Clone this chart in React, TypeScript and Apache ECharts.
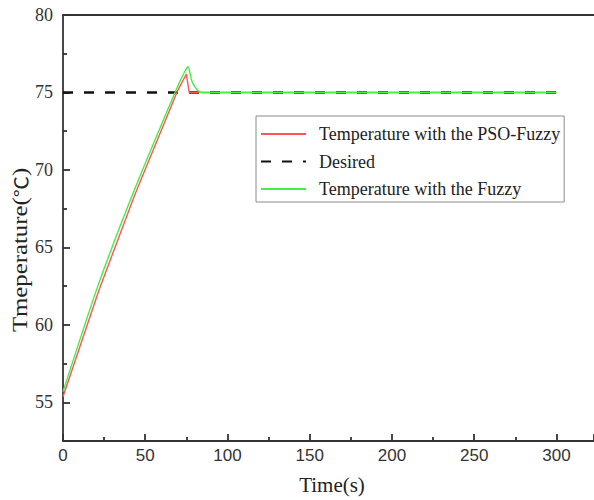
import React, { useEffect, useRef } from "react";
import * as echarts from "echarts";

// PSO-Fuzzy temperature response
const timePso = [0, 21.9, 43.6, 69.4, 75.0, 76.7, 300];
const tempPso = [55.36, 62.25, 68.38, 75.05, 76.19, 75.0, 75.0];

// Fuzzy temperature response
const timeFuzzy = [0, 21.0, 43.0, 68.5, 74.0, 76.1, 78.1, 80.1, 82.7, 85.0, 300];
const tempFuzzy = [55.68, 62.45, 68.6, 75.1, 76.35, 76.66, 75.8, 75.37, 75.05, 75.0, 75.0];

// Desired setpoint
const timeDesired = [0, 300];
const tempDesired = [75, 75];

const seriesNames = [
  "Temperature with the PSO-Fuzzy",
  "Desired",
  "Temperature with the Fuzzy",
];

const xTicks = [0, 50, 100, 150, 200, 250, 300];
const yTicks = [55, 60, 65, 70, 75, 80];

const zip = (xs: number[], ys: number[]) => xs.map((x, i) => [x, ys[i]]);

const SERIF = "'Liberation Serif', 'Times New Roman', serif";
const CJK = "'Noto Sans CJK SC', sans-serif";
const SANS = "'Liberation Sans', Arial, sans-serif";

export default function App() {
  const ref = useRef<HTMLDivElement>(null);

  useEffect(() => {
    if (!ref.current) return;
    const chart = echarts.init(ref.current, undefined, { renderer: "svg" });
    const axisLineStyle = { color: "#333", width: 1.8 };
    chart.setOption({
      animation: false,
      backgroundColor: "#fff",
      grid: { left: 63, top: 15, right: 0, bottom: 59, containLabel: false },
      legend: {
        orient: "vertical",
        left: 256,
        top: 116,
        data: seriesNames,
        itemWidth: 45,
        itemHeight: 14,
        itemGap: 9.5,
        itemStyle: { opacity: 0 },
        borderColor: "#8a8a8a",
        borderWidth: 1,
        borderRadius: 0,
        padding: [9, 4, 4, 4],
        textStyle: {
          fontFamily: SERIF,
          fontSize: 18,
          color: "#222",
          padding: [0, 0, 0, 8],
        },
      },
      xAxis: [
        {
          type: "value",
          min: 0,
          max: 322.8,
          interval: 50,
          position: "bottom",
          splitLine: { show: false },
          axisLine: { show: true, onZero: false, lineStyle: axisLineStyle },
          axisTick: { show: true, inside: true, length: 7, lineStyle: axisLineStyle },
          minorTick: { show: true, splitNumber: 2, length: 4, lineStyle: axisLineStyle },
          axisLabel: {
            margin: 6,
            fontFamily: SANS,
            fontSize: 17,
            color: "#333",
            showMaxLabel: false,
            formatter: (v: number) => (xTicks.includes(v) ? String(v) : ""),
          },
        },
        {
          type: "value",
          min: 0,
          max: 322.8,
          position: "top",
          splitLine: { show: false },
          axisLine: { show: true, onZero: false, lineStyle: axisLineStyle },
          axisTick: { show: false },
          axisLabel: { show: false },
        },
      ],
      yAxis: {
        type: "value",
        min: 52.5,
        max: 80,
        splitNumber: 5,
        splitLine: { show: false },
        axisLine: { show: true, onZero: false, lineStyle: axisLineStyle },
        axisTick: { show: true, inside: true, length: 7, lineStyle: axisLineStyle },
        minorTick: { show: true, splitNumber: 2, length: 4, lineStyle: axisLineStyle },
        axisLabel: {
          margin: 10,
          fontFamily: SERIF,
          fontSize: 18,
          color: "#333",
          showMinLabel: false,
          formatter: (v: number) => (yTicks.includes(v) ? String(v) : ""),
        },
      },
      graphic: [
        {
          type: "text",
          x: 20,
          y: 250,
          rotation: Math.PI / 2,
          scaleX: 1.18,
          style: {
            text: "{a|Tmeperature(}{b|℃}{a|)}",
            rich: {
              a: { fontFamily: SERIF, fontSize: 21, fill: "#222" },
              b: { fontFamily: CJK, fontSize: 18, fill: "#222" },
            },
            fill: "#222",
            textAlign: "center",
            textVerticalAlign: "middle",
          },
        },
        {
          type: "text",
          x: 332,
          y: 485,
          style: {
            text: "Time(s)",
            fontFamily: SERIF,
            fontSize: 21,
            fill: "#222",
            textAlign: "center",
            textVerticalAlign: "middle",
          },
        },
      ],
      series: [
        {
          name: seriesNames[1],
          type: "line",
          data: zip(timeDesired, tempDesired),
          symbol: "none",
          z: 2,
          lineStyle: { color: "#111", width: 2.6, type: [10, 11] },
          itemStyle: { color: "#111" },
        },
        {
          name: seriesNames[0],
          type: "line",
          data: zip(timePso, tempPso),
          symbol: "none",
          z: 3,
          lineStyle: { color: "#ff5555", width: 1.4 },
          itemStyle: { color: "#ff5555" },
        },
        {
          name: seriesNames[2],
          type: "line",
          data: zip(timeFuzzy, tempFuzzy),
          symbol: "none",
          smooth: 0.2,
          z: 4,
          lineStyle: { color: "#44ee44", width: 1.4 },
          itemStyle: { color: "#44ee44" },
        },
      ],
    });
    return () => chart.dispose();
  }, []);

  return (
    <div
      ref={ref}
      style={{ position: "absolute", left: 0, top: 0, width: 594, height: 500 }}
    />
  );
}
